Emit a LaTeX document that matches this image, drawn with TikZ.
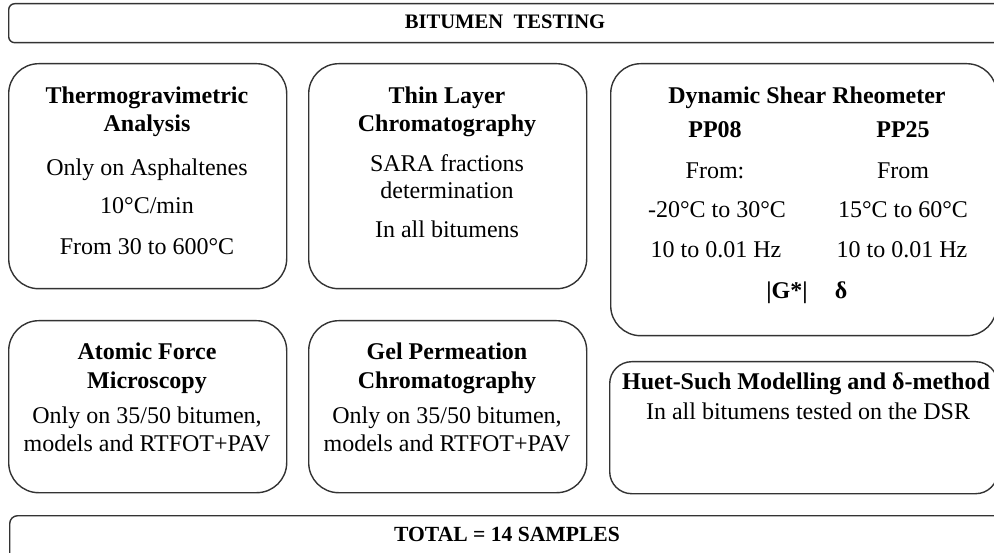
\documentclass[tikz,border=0pt]{standalone}
\usepackage{fontspec}
\setmainfont{Liberation Serif}
\begin{document}
\begin{tikzpicture}[x=1pt,y=-1pt,
  box/.style={draw=black!80, line width=1.4pt, rounded corners=30pt, inner sep=0pt, anchor=north west},
  txt/.style={anchor=base, inner sep=0pt, font=\fontsize{24}{28}\selectfont},
  hd/.style={anchor=base, inner sep=0pt, font=\fontsize{24}{28}\selectfont\bfseries},
  ttl/.style={anchor=base, inner sep=0pt, font=\fontsize{20.6}{24}\selectfont\bfseries}]
\useasboundingbox (0,0) rectangle (994,553);
\clip (0,0) rectangle (994,553);
% boxes
\node[box, rounded corners=6pt, minimum width=994pt, minimum height=39pt] (top) at (8,3) {};
\node[box, minimum width=278pt, minimum height=225pt] (tga) at (8,63) {};
\node[box, minimum width=278pt, minimum height=225pt] (tlc) at (308,63) {};
\node[box, minimum width=386pt, minimum height=272pt] (dsr) at (610,63) {};
\node[box, minimum width=278pt, minimum height=172pt] (afm) at (8,320) {};
\node[box, minimum width=278pt, minimum height=172pt] (gpc) at (308,320) {};
\node[box, rounded corners=22pt, minimum width=388pt, minimum height=132pt] (huet) at (609,361) {};
\node[box, rounded corners=8pt, minimum width=994pt, minimum height=50pt] (bot) at (9,515) {};
% titles
\node[ttl] (ttop) at (505,29) {BITUMEN\ \ TESTING};
\node[ttl, font=\fontsize{21.6}{24}\selectfont\bfseries] (tbot) at (507,541) {TOTAL = 14 SAMPLES};
% TGA
\node[hd] (tga1) at (147,104) {Thermogravimetric};
\node[hd] (tga2) at (147,132) {Analysis};
\node[txt] (tga3) at (147,176) {Only on Asphaltenes};
\node[txt] (tga4) at (147,214) {10°C/min};
\node[txt] (tga5) at (147,255) {From 30 to 600°C};
% TLC
\node[hd] (tlc1) at (447,104) {Thin Layer};
\node[hd] (tlc2) at (447,132) {Chromatography};
\node[txt] (tlc3) at (447,172) {SARA fractions};
\node[txt] (tlc4) at (447,199) {determination};
\node[txt] (tlc5) at (447,238) {In all bitumens};
% DSR
\node[hd] (dsr1) at (807,104) {Dynamic Shear Rheometer};
\node[hd] (dsra) at (715,138) {PP08};
\node[hd] (dsrb) at (903,138) {PP25};
\node[txt] (dsra1) at (715,179) {From:};
\node[txt] (dsrb1) at (903,179) {From};
\node[txt] (dsra2) at (717,218) {-20°C to 30°C};
\node[txt] (dsrb2) at (903,218) {15°C to 60°C};
\node[txt] (dsra3) at (716,258) {10 to 0.01 Hz};
\node[txt] (dsrb3) at (902,258) {10 to 0.01 Hz};
\node[hd] (dsrg) at (787,299) {|G*|};
\node[hd] (dsrd) at (841,299) {δ};
% AFM
\node[hd] (afm1) at (147,360) {Atomic Force};
\node[hd] (afm2) at (147,389) {Microscopy};
\node[txt] (afm3) at (147,424) {Only on 35/50 bitumen,};
\node[txt] (afm4) at (147,451) {models and RTFOT+PAV};
% GPC
\node[hd] (gpc1) at (447,360) {Gel Permeation};
\node[hd] (gpc2) at (447,389) {Chromatography};
\node[txt] (gpc3) at (447,424) {Only on 35/50 bitumen,};
\node[txt] (gpc4) at (447,451) {models and RTFOT+PAV};
% Huet
\node[hd] (huet1) at (806,390) {Huet-Such Modelling and δ-method};
\node[txt] (huet2) at (808,420) {In all bitumens tested on the DSR};
\end{tikzpicture}
\end{document}
